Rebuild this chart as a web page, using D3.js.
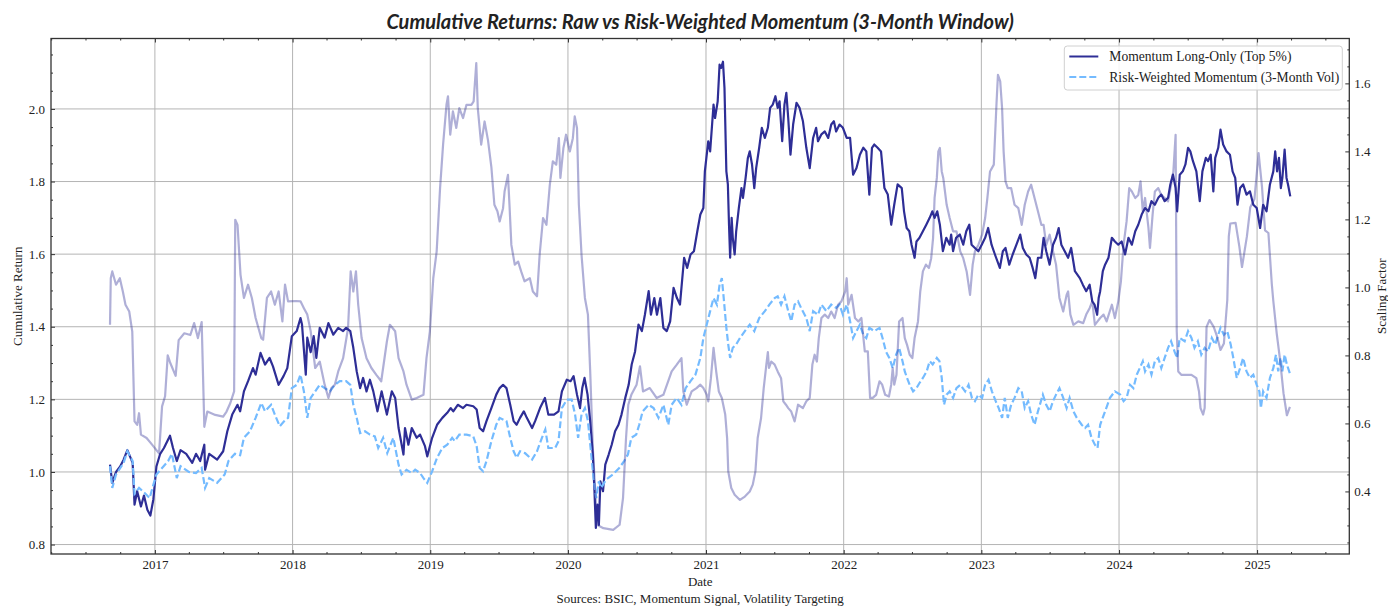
<!DOCTYPE html>
<html>
<head>
<meta charset="utf-8">
<script src="https://cdn.jsdelivr.net/npm/d3@7"></script>
<style>
  body { margin: 0; background: #fff; }
  svg text { font-family: "Liberation Serif", "DejaVu Serif", serif; fill: #222; }
</style>
</head>
<body>
<svg id="chart" width="1388" height="607"></svg>
<script>
// ---------- data ----------
const titleText = "Cumulative Returns: Raw vs Risk-Weighted Momentum (3-Month Window)";
const seriesNames = ["Momentum Long-Only (Top 5%)", "Risk-Weighted Momentum (3-Month Vol)"];
const leftTicks = [0.8, 1.0, 1.2, 1.4, 1.6, 1.8, 2.0];
const rightTicks = [0.4, 0.6, 0.8, 1.0, 1.2, 1.4, 1.6];

// raw momentum, cumulative return (left axis)
const momentumRaw = [
  ["2016-09-04",1.02],["2016-09-10",0.97],["2016-09-20",1.00],["2016-10-01",1.015],["2016-10-10",1.034],
  ["2016-10-20",1.06],["2016-10-28",1.04],["2016-11-03",1.025],["2016-11-08",0.91],["2016-11-15",0.947],
  ["2016-11-25",0.905],["2016-12-03",0.935],["2016-12-12",0.896],["2016-12-20",0.88],["2016-12-28",0.925],
  ["2017-01-05",1.015],["2017-01-15",1.05],["2017-01-25",1.066],["2017-02-10",1.10],["2017-02-18",1.066],
  ["2017-02-28",1.03],["2017-03-10",1.06],["2017-03-25",1.05],["2017-04-10",1.025],["2017-04-20",1.05],
  ["2017-05-01",1.03],["2017-05-12",1.075],["2017-05-14",1.006],["2017-05-25",1.05],["2017-06-15",1.034],
  ["2017-07-01",1.057],["2017-07-12",1.112],["2017-07-25",1.158],["2017-08-08",1.185],["2017-08-15",1.167],
  ["2017-08-25",1.222],["2017-09-05",1.25],["2017-09-18",1.286],["2017-09-25",1.268],["2017-10-08",1.328],
  ["2017-10-20",1.296],["2017-11-01",1.314],["2017-11-10",1.291],["2017-11-25",1.24],["2017-12-08",1.264],
  ["2017-12-18",1.286],["2017-12-30",1.374],["2018-01-12",1.388],["2018-01-22",1.424],["2018-01-26",1.406],
  ["2018-02-05",1.268],["2018-02-09",1.37],["2018-02-18",1.33],["2018-02-26",1.374],["2018-03-05",1.314],
  ["2018-03-14",1.397],["2018-03-27",1.37],["2018-04-06",1.41],["2018-04-19",1.378],["2018-05-02",1.397],
  ["2018-05-15",1.388],["2018-05-23",1.397],["2018-06-03",1.388],["2018-06-11",1.342],["2018-06-20",1.277],
  ["2018-06-29",1.231],["2018-07-07",1.259],["2018-07-16",1.222],["2018-07-25",1.254],["2018-08-03",1.222],
  ["2018-08-14",1.167],["2018-08-25",1.222],["2018-09-08",1.158],["2018-09-21",1.222],["2018-09-30",1.204],
  ["2018-10-09",1.121],["2018-10-22",1.048],["2018-10-26",1.121],["2018-11-04",1.075],["2018-11-13",1.121],
  ["2018-11-26",1.094],["2018-12-05",1.103],["2018-12-18",1.071],["2018-12-24",1.043],["2019-01-06",1.094],
  ["2019-01-19",1.13],["2019-02-02",1.149],["2019-02-15",1.163],["2019-02-24",1.176],["2019-03-03",1.167],
  ["2019-03-15",1.185],["2019-03-29",1.176],["2019-04-07",1.185],["2019-04-25",1.181],["2019-05-04",1.172],
  ["2019-05-12",1.121],["2019-05-21",1.112],["2019-05-30",1.14],["2019-06-12",1.176],["2019-06-25",1.213],
  ["2019-07-04",1.231],["2019-07-13",1.24],["2019-07-22",1.231],["2019-08-01",1.185],["2019-08-10",1.14],
  ["2019-08-18",1.13],["2019-08-27",1.149],["2019-09-06",1.167],["2019-09-14",1.149],["2019-09-28",1.121],
  ["2019-10-06",1.14],["2019-10-19",1.176],["2019-11-01",1.204],["2019-11-10",1.158],["2019-11-25",1.158],
  ["2019-12-07",1.167],["2019-12-16",1.222],["2019-12-29",1.254],["2020-01-08",1.25],["2020-01-16",1.264],
  ["2020-01-25",1.213],["2020-02-02",1.176],["2020-02-08",1.231],["2020-02-14",1.259],["2020-02-22",1.213],
  ["2020-02-29",1.14],["2020-03-07",1.048],["2020-03-11",0.956],["2020-03-15",0.846],["2020-03-19",0.91],
  ["2020-03-23",0.854],["2020-03-27",0.974],["2020-04-03",0.947],["2020-04-09",1.02],["2020-04-18",1.048],
  ["2020-04-26",1.075],["2020-05-05",1.112],["2020-05-14",1.13],["2020-05-22",1.158],["2020-06-01",1.204],
  ["2020-06-10",1.24],["2020-06-18",1.296],["2020-06-27",1.332],["2020-07-06",1.406],["2020-07-15",1.388],
  ["2020-07-23",1.433],["2020-08-02",1.498],["2020-08-08",1.433],["2020-08-17",1.479],["2020-08-24",1.433],
  ["2020-09-02",1.479],["2020-09-10",1.397],["2020-09-19",1.388],["2020-09-28",1.415],["2020-10-07",1.507],
  ["2020-10-16",1.479],["2020-10-24",1.461],["2020-11-04",1.59],["2020-11-12",1.562],["2020-11-21",1.599],
  ["2020-11-30",1.608],["2020-12-09",1.663],["2020-12-17",1.709],["2020-12-25",1.727],["2020-12-29",1.828],
  ["2021-01-07",1.911],["2021-01-12",1.883],["2021-01-21",2.012],["2021-01-25",1.975],["2021-02-01",2.021],
  ["2021-02-06",2.122],["2021-02-10",2.113],["2021-02-15",2.13],["2021-02-19",2.058],["2021-02-24",1.828],
  ["2021-02-28",1.792],["2021-03-03",1.681],["2021-03-06",1.59],["2021-03-10",1.70],["2021-03-13",1.645],
  ["2021-03-18",1.599],["2021-03-22",1.663],["2021-03-29",1.727],["2021-04-05",1.782],["2021-04-09",1.755],
  ["2021-04-16",1.81],["2021-04-22",1.865],["2021-04-27",1.883],["2021-05-03",1.847],["2021-05-09",1.782],
  ["2021-05-14",1.837],["2021-05-22",1.893],["2021-05-29",1.948],["2021-06-06",1.92],["2021-06-14",1.948],
  ["2021-06-20",2.003],["2021-06-27",2.012],["2021-07-04",2.035],["2021-07-10",2.003],["2021-07-15",2.021],
  ["2021-07-22",1.911],["2021-07-28",2.012],["2021-08-02",2.044],["2021-08-07",1.975],["2021-08-13",1.874],
  ["2021-08-20",1.957],["2021-08-29",2.017],["2021-09-06",2.003],["2021-09-15",1.966],["2021-09-24",1.893],
  ["2021-10-03",1.837],["2021-10-12",1.92],["2021-10-20",1.948],["2021-10-25",1.911],["2021-11-03",1.93],
  ["2021-11-12",1.938],["2021-11-21",1.92],["2021-11-29",1.957],["2021-12-06",1.966],["2021-12-12",1.938],
  ["2021-12-21",1.957],["2021-12-30",1.948],["2022-01-09",1.92],["2022-01-18",1.92],["2022-01-26",1.819],
  ["2022-02-04",1.837],["2022-02-13",1.874],["2022-02-22",1.893],["2022-03-02",1.883],["2022-03-10",1.764],
  ["2022-03-17",1.893],["2022-03-23",1.902],["2022-04-01",1.893],["2022-04-10",1.883],["2022-04-19",1.782],
  ["2022-04-28",1.764],["2022-05-07",1.681],["2022-05-15",1.736],["2022-05-24",1.792],["2022-06-04",1.782],
  ["2022-06-10",1.718],["2022-06-17",1.672],["2022-06-24",1.663],["2022-06-30",1.626],["2022-07-08",1.59],
  ["2022-07-13",1.635],["2022-07-21",1.645],["2022-07-30",1.663],["2022-08-08",1.681],["2022-08-17",1.70],
  ["2022-08-24",1.718],["2022-08-30",1.70],["2022-09-06",1.718],["2022-09-13",1.681],["2022-09-21",1.608],
  ["2022-09-30",1.645],["2022-10-09",1.626],["2022-10-13",1.654],["2022-10-18",1.608],["2022-10-26",1.645],
  ["2022-11-05",1.654],["2022-11-14",1.626],["2022-11-22",1.663],["2022-11-30",1.681],["2022-12-06",1.626],
  ["2022-12-15",1.617],["2022-12-24",1.608],["2023-01-02",1.626],["2023-01-11",1.645],["2023-01-19",1.672],
  ["2023-01-28",1.626],["2023-02-06",1.599],["2023-02-19",1.562],["2023-02-27",1.608],["2023-03-06",1.617],
  ["2023-03-16",1.571],["2023-03-25",1.599],["2023-04-04",1.626],["2023-04-14",1.654],["2023-04-21",1.617],
  ["2023-04-30",1.599],["2023-05-09",1.59],["2023-05-17",1.562],["2023-05-24",1.534],["2023-05-31",1.59],
  ["2023-06-09",1.59],["2023-06-15",1.645],["2023-06-22",1.608],["2023-07-01",1.571],["2023-07-10",1.626],
  ["2023-07-18",1.645],["2023-07-25",1.672],["2023-08-01",1.626],["2023-08-10",1.608],["2023-08-19",1.59],
  ["2023-08-27",1.617],["2023-09-06",1.553],["2023-09-19",1.534],["2023-09-27",1.516],["2023-10-06",1.498],
  ["2023-10-15",1.516],["2023-10-22",1.47],["2023-10-28",1.461],["2023-11-04",1.433],["2023-11-08",1.479],
  ["2023-11-12",1.498],["2023-11-19",1.553],["2023-11-25",1.571],["2023-12-04",1.59],["2023-12-13",1.645],
  ["2023-12-21",1.635],["2023-12-30",1.626],["2024-01-08",1.635],["2024-01-17",1.599],["2024-01-26",1.645],
  ["2024-02-04",1.626],["2024-02-13",1.663],["2024-02-21",1.681],["2024-03-01",1.709],["2024-03-10",1.727],
  ["2024-03-19",1.718],["2024-03-27",1.746],["2024-04-05",1.736],["2024-04-14",1.755],["2024-04-22",1.764],
  ["2024-05-01",1.746],["2024-05-10",1.755],["2024-05-16",1.792],["2024-05-23",1.819],["2024-05-30",1.782],
  ["2024-06-03",1.718],["2024-06-10",1.819],["2024-06-18",1.828],["2024-06-25",1.847],["2024-07-02",1.893],
  ["2024-07-08",1.883],["2024-07-15",1.856],["2024-07-24",1.828],["2024-08-02",1.746],["2024-08-09",1.828],
  ["2024-08-18",1.865],["2024-08-24",1.856],["2024-08-31",1.874],["2024-09-07",1.773],["2024-09-12",1.865],
  ["2024-09-20",1.893],["2024-09-26",1.943],["2024-10-03",1.902],["2024-10-12",1.883],["2024-10-21",1.874],
  ["2024-10-28",1.828],["2024-11-04",1.81],["2024-11-10",1.736],["2024-11-17",1.782],["2024-11-25",1.792],
  ["2024-12-04",1.764],["2024-12-13",1.773],["2024-12-22",1.736],["2024-12-31",1.727],["2025-01-09",1.672],
  ["2025-01-17",1.736],["2025-01-26",1.718],["2025-02-04",1.792],["2025-02-13",1.828],["2025-02-18",1.883],
  ["2025-02-23",1.828],["2025-02-28",1.865],["2025-03-05",1.782],["2025-03-09",1.81],["2025-03-15",1.888],
  ["2025-03-20",1.81],["2025-03-24",1.792],["2025-03-30",1.759]
];

// risk-weighted momentum, cumulative return (left axis)
const momentumRiskWeighted = [
  ["2016-09-04",1.016],["2016-09-10",0.956],["2016-09-20",0.993],["2016-10-10",1.025],["2016-10-20",1.057],
  ["2016-11-03",1.03],["2016-11-08",0.94],["2016-11-20",0.956],["2016-12-05",0.942],["2016-12-18",0.928],
  ["2016-12-28",0.965],["2017-01-05",0.993],["2017-01-20",1.011],["2017-02-05",1.03],["2017-02-15",1.05],
  ["2017-02-28",0.983],["2017-03-10",1.016],["2017-04-01",1.0],["2017-04-20",0.997],["2017-05-05",1.011],
  ["2017-05-14",0.956],["2017-05-25",0.983],["2017-06-15",0.97],["2017-07-05",0.993],["2017-07-15",1.03],
  ["2017-08-01",1.05],["2017-08-15",1.046],["2017-08-25",1.094],["2017-09-10",1.112],["2017-09-25",1.149],
  ["2017-10-10",1.19],["2017-10-20",1.167],["2017-11-05",1.185],["2017-11-15",1.158],["2017-11-28",1.126],
  ["2017-12-10",1.14],["2017-12-20",1.149],["2017-12-30",1.231],["2018-01-12",1.24],["2018-01-22",1.268],
  ["2018-01-31",1.222],["2018-02-09",1.149],["2018-02-18",1.204],["2018-03-02",1.222],["2018-03-14",1.24],
  ["2018-03-27",1.231],["2018-04-10",1.222],["2018-04-23",1.24],["2018-05-06",1.25],["2018-05-23",1.25],
  ["2018-06-03",1.24],["2018-06-11",1.185],["2018-06-20",1.149],["2018-06-29",1.107],["2018-07-12",1.112],
  ["2018-07-25",1.103],["2018-08-07",1.098],["2018-08-16",1.066],["2018-08-29",1.094],["2018-09-09",1.052],
  ["2018-09-25",1.094],["2018-10-09",1.02],["2018-10-17",0.993],["2018-10-30",1.006],["2018-11-13",0.997],
  ["2018-11-22",1.006],["2018-12-05",0.997],["2018-12-14",0.983],["2018-12-24",0.97],["2019-01-06",1.002],
  ["2019-01-19",1.039],["2019-02-02",1.066],["2019-02-15",1.075],["2019-02-28",1.094],["2019-03-07",1.085],
  ["2019-03-19",1.103],["2019-04-07",1.103],["2019-04-25",1.098],["2019-05-04",1.071],["2019-05-12",1.011],
  ["2019-05-21",1.002],["2019-05-30",1.03],["2019-06-12",1.085],["2019-06-25",1.13],["2019-07-04",1.149],
  ["2019-07-22",1.14],["2019-08-01",1.094],["2019-08-10",1.057],["2019-08-18",1.039],["2019-08-27",1.057],
  ["2019-09-09",1.052],["2019-09-28",1.034],["2019-10-11",1.057],["2019-10-24",1.094],["2019-11-02",1.117],
  ["2019-11-10",1.066],["2019-11-28",1.066],["2019-12-07",1.085],["2019-12-16",1.176],["2019-12-29",1.199],
  ["2020-01-11",1.199],["2020-01-20",1.158],["2020-01-28",1.094],["2020-02-06",1.158],["2020-02-15",1.176],
  ["2020-02-23",1.14],["2020-03-01",1.066],["2020-03-09",0.983],["2020-03-16",0.928],["2020-03-23",0.974],
  ["2020-03-29",0.956],["2020-04-11",0.979],["2020-04-29",0.993],["2020-05-16",1.011],["2020-05-29",1.03],
  ["2020-06-08",1.048],["2020-06-17",1.094],["2020-06-30",1.103],["2020-07-08",1.13],["2020-07-17",1.167],
  ["2020-08-02",1.185],["2020-08-15",1.176],["2020-08-28",1.149],["2020-09-10",1.185],["2020-09-23",1.13],
  ["2020-10-02",1.185],["2020-10-15",1.204],["2020-10-28",1.185],["2020-11-08",1.231],["2020-11-21",1.25],
  ["2020-12-04",1.268],["2020-12-17",1.314],["2020-12-25",1.369],["2021-01-03",1.406],["2021-01-12",1.443],
  ["2021-01-21",1.479],["2021-01-30",1.461],["2021-02-06",1.516],["2021-02-12",1.534],["2021-02-17",1.479],
  ["2021-02-24",1.397],["2021-03-01",1.351],["2021-03-06",1.314],["2021-03-13",1.342],["2021-03-22",1.351],
  ["2021-04-01",1.369],["2021-04-14",1.388],["2021-04-27",1.406],["2021-05-09",1.388],["2021-05-22",1.424],
  ["2021-06-06",1.443],["2021-06-18",1.461],["2021-07-02",1.479],["2021-07-10",1.484],["2021-07-19",1.461],
  ["2021-07-28",1.484],["2021-08-07",1.443],["2021-08-15",1.415],["2021-08-24",1.461],["2021-09-02",1.47],
  ["2021-09-10",1.452],["2021-09-24",1.424],["2021-10-03",1.388],["2021-10-12",1.443],["2021-10-25",1.433],
  ["2021-11-03",1.461],["2021-11-16",1.443],["2021-11-29",1.461],["2021-12-12",1.452],["2021-12-21",1.461],
  ["2021-12-30",1.433],["2022-01-09",1.461],["2022-01-18",1.415],["2022-01-26",1.369],["2022-02-04",1.388],
  ["2022-02-13",1.406],["2022-02-22",1.378],["2022-03-02",1.369],["2022-03-10",1.397],["2022-03-23",1.388],
  ["2022-04-06",1.397],["2022-04-14",1.369],["2022-04-23",1.332],["2022-05-02",1.314],["2022-05-11",1.286],
  ["2022-05-20",1.323],["2022-05-28",1.342],["2022-06-06",1.305],["2022-06-12",1.277],["2022-06-18",1.259],
  ["2022-06-25",1.24],["2022-07-04",1.222],["2022-07-13",1.231],["2022-07-21",1.245],["2022-07-30",1.259],
  ["2022-08-09",1.277],["2022-08-17",1.305],["2022-08-25",1.296],["2022-09-05",1.314],["2022-09-12",1.305],
  ["2022-09-18",1.259],["2022-09-24",1.185],["2022-10-01",1.213],["2022-10-09",1.222],["2022-10-18",1.204],
  ["2022-10-27",1.231],["2022-11-06",1.24],["2022-11-19",1.222],["2022-11-28",1.24],["2022-12-07",1.204],
  ["2022-12-15",1.195],["2022-12-24",1.213],["2023-01-03",1.204],["2023-01-11",1.24],["2023-01-20",1.254],
  ["2023-01-29",1.222],["2023-02-08",1.195],["2023-02-16",1.176],["2023-02-25",1.149],["2023-03-04",1.204],
  ["2023-03-12",1.149],["2023-03-21",1.185],["2023-03-30",1.204],["2023-04-09",1.231],["2023-04-18",1.222],
  ["2023-04-26",1.176],["2023-05-05",1.195],["2023-05-13",1.158],["2023-05-22",1.13],["2023-05-31",1.167],
  ["2023-06-13",1.213],["2023-06-22",1.185],["2023-07-01",1.167],["2023-07-10",1.195],["2023-07-18",1.213],
  ["2023-07-27",1.231],["2023-08-06",1.204],["2023-08-15",1.176],["2023-08-23",1.204],["2023-09-02",1.167],
  ["2023-09-11",1.149],["2023-09-24",1.13],["2023-10-03",1.121],["2023-10-11",1.13],["2023-10-20",1.094],
  ["2023-10-29",1.075],["2023-11-05",1.066],["2023-11-09",1.103],["2023-11-12",1.13],["2023-11-25",1.167],
  ["2023-12-08",1.204],["2023-12-21",1.222],["2024-01-04",1.213],["2024-01-13",1.195],["2024-01-21",1.204],
  ["2024-01-30",1.24],["2024-02-08",1.231],["2024-02-17",1.268],["2024-02-25",1.286],["2024-03-04",1.305],
  ["2024-03-10",1.277],["2024-03-19",1.296],["2024-03-27",1.268],["2024-04-05",1.305],["2024-04-14",1.314],
  ["2024-04-22",1.286],["2024-05-01",1.314],["2024-05-10",1.342],["2024-05-18",1.36],["2024-05-27",1.332],
  ["2024-06-03",1.314],["2024-06-10",1.369],["2024-06-23",1.36],["2024-07-02",1.388],["2024-07-11",1.369],
  ["2024-07-19",1.342],["2024-07-28",1.36],["2024-08-06",1.323],["2024-08-15",1.342],["2024-08-24",1.332],
  ["2024-09-03",1.369],["2024-09-12",1.351],["2024-09-20",1.378],["2024-09-26",1.397],["2024-10-05",1.378],
  ["2024-10-14",1.388],["2024-10-23",1.351],["2024-10-30",1.314],["2024-11-08",1.259],["2024-11-17",1.286],
  ["2024-11-25",1.314],["2024-12-04",1.277],["2024-12-13",1.259],["2024-12-22",1.268],["2024-12-31",1.24],
  ["2025-01-07",1.222],["2025-01-11",1.176],["2025-01-17",1.222],["2025-01-26",1.204],["2025-02-04",1.259],
  ["2025-02-13",1.286],["2025-02-20",1.323],["2025-02-26",1.277],["2025-03-04",1.314],["2025-03-09",1.277],
  ["2025-03-15",1.323],["2025-03-21",1.296],["2025-03-30",1.268]
];

// volatility scaling factor (right axis)
const scalingFactor = [
  ["2016-09-04",0.89],["2016-09-06",1.027],["2016-09-10",1.047],["2016-09-20",1.008],["2016-09-30",1.027],
  ["2016-10-08",0.988],["2016-10-15",0.949],["2016-10-25",0.929],["2016-11-02",0.87],["2016-11-08",0.606],
  ["2016-11-15",0.596],["2016-11-20",0.63],["2016-11-25",0.567],["2016-12-10",0.557],["2016-12-25",0.537],
  ["2017-01-12",0.512],["2017-01-20",0.65],["2017-01-28",0.68],["2017-02-04",0.80],["2017-02-10",0.78],
  ["2017-02-25",0.74],["2017-03-05",0.845],["2017-03-20",0.865],["2017-04-05",0.86],["2017-04-15",0.895],
  ["2017-04-25",0.851],["2017-05-05",0.898],["2017-05-12",0.59],["2017-05-20",0.635],["2017-06-10",0.625],
  ["2017-07-01",0.62],["2017-07-10",0.635],["2017-07-20",0.66],["2017-07-30",0.694],["2017-08-02",1.199],
  ["2017-08-08",1.184],["2017-08-16",1.037],["2017-08-25",0.969],["2017-09-05",1.008],["2017-09-15",0.969],
  ["2017-09-25",0.91],["2017-10-10",0.851],["2017-10-15",0.846],["2017-10-25",0.969],["2017-11-05",0.988],
  ["2017-11-15",0.949],["2017-11-25",0.988],["2017-12-05",0.90],["2017-12-12",1.008],["2017-12-20",0.959],
  ["2018-01-10",0.96],["2018-01-22",0.959],["2018-01-31",0.939],["2018-02-09",0.92],["2018-02-18",0.871],
  ["2018-03-02",0.763],["2018-03-14",0.782],["2018-03-27",0.714],["2018-04-06",0.675],["2018-04-14",0.704],
  ["2018-04-23",0.714],["2018-05-02",0.753],["2018-05-15",0.792],["2018-05-28",0.88],["2018-06-04",1.047],
  ["2018-06-11",0.988],["2018-06-18",1.047],["2018-06-24",0.949],["2018-07-03",0.851],["2018-07-16",0.792],
  ["2018-07-29",0.763],["2018-08-11",0.743],["2018-08-24",0.724],["2018-09-08",0.841],["2018-09-16",0.89],
  ["2018-09-30",0.871],["2018-10-09",0.792],["2018-10-22",0.753],["2018-10-30",0.714],["2018-11-13",0.67],
  ["2018-11-26",0.675],["2018-12-14",0.684],["2018-12-22",0.792],["2018-12-31",0.871],["2019-01-09",1.027],
  ["2019-01-18",1.106],["2019-01-27",1.292],["2019-02-04",1.42],["2019-02-13",1.537],["2019-02-17",1.562],
  ["2019-02-23",1.449],["2019-03-02",1.518],["2019-03-11",1.469],["2019-03-19",1.527],["2019-03-29",1.498],
  ["2019-04-07",1.537],["2019-04-20",1.537],["2019-04-26",1.547],["2019-05-03",1.66],["2019-05-07",1.527],
  ["2019-05-16",1.42],["2019-05-25",1.488],["2019-06-03",1.433],["2019-06-12",1.354],["2019-06-20",1.243],
  ["2019-06-28",1.224],["2019-07-04",1.194],["2019-07-13",1.233],["2019-07-17",1.282],["2019-07-26",1.331],
  ["2019-07-30",1.243],["2019-08-04",1.125],["2019-08-13",1.067],["2019-08-22",1.076],["2019-08-30",1.047],
  ["2019-09-08",1.018],["2019-09-22",1.027],["2019-09-30",0.988],["2019-10-11",0.974],["2019-10-18",1.096],
  ["2019-10-27",1.204],["2019-11-05",1.184],["2019-11-14",1.302],["2019-11-22",1.371],["2019-12-01",1.361],
  ["2019-12-08",1.439],["2019-12-12",1.322],["2019-12-20",1.41],["2019-12-27",1.449],["2020-01-06",1.40],
  ["2020-01-14",1.439],["2020-01-19",1.503],["2020-01-25",1.469],["2020-01-30",1.243],["2020-02-06",1.096],
  ["2020-02-15",0.969],["2020-02-23",0.92],["2020-02-29",0.753],["2020-03-07",0.527],["2020-03-13",0.41],
  ["2020-03-18",0.302],["2020-04-04",0.292],["2020-04-30",0.287],["2020-05-17",0.302],["2020-05-26",0.38],
  ["2020-06-03",0.557],["2020-06-09",0.655],["2020-06-17",0.684],["2020-07-01",0.714],["2020-07-10",0.768],
  ["2020-07-18",0.694],["2020-08-05",0.704],["2020-08-23",0.675],["2020-09-10",0.684],["2020-10-02",0.753],
  ["2020-10-15",0.772],["2020-10-28",0.792],["2020-11-02",0.694],["2020-11-11",0.655],["2020-11-24",0.694],
  ["2020-12-07",0.704],["2020-12-17",0.714],["2020-12-25",0.704],["2021-01-03",0.684],["2021-01-07",0.665],
  ["2021-01-14",0.733],["2021-01-21",0.822],["2021-01-28",0.753],["2021-02-04",0.694],["2021-02-12",0.675],
  ["2021-02-21",0.626],["2021-02-26",0.557],["2021-03-01",0.459],["2021-03-09",0.41],["2021-03-18",0.39],
  ["2021-04-01",0.375],["2021-04-14",0.385],["2021-04-27",0.40],["2021-05-05",0.42],["2021-05-12",0.459],
  ["2021-05-18",0.557],["2021-05-27",0.616],["2021-06-03",0.704],["2021-06-10",0.773],["2021-06-14",0.81],
  ["2021-06-17",0.763],["2021-06-23",0.782],["2021-07-02",0.773],["2021-07-10",0.753],["2021-07-19",0.733],
  ["2021-07-25",0.665],["2021-08-01",0.655],["2021-08-07",0.645],["2021-08-15",0.635],["2021-08-24",0.606],
  ["2021-09-02",0.655],["2021-09-15",0.645],["2021-09-24",0.665],["2021-10-03",0.675],["2021-10-10",0.773],
  ["2021-10-16",0.802],["2021-10-22",0.782],["2021-10-27",0.851],["2021-11-03",0.91],["2021-11-12",0.92],
  ["2021-11-21",0.91],["2021-11-29",0.929],["2021-12-08",0.91],["2021-12-17",0.949],["2021-12-26",0.959],
  ["2022-01-05",0.988],["2022-01-09",1.027],["2022-01-13",0.949],["2022-01-22",0.978],["2022-01-31",0.91],
  ["2022-02-09",0.90],["2022-02-17",0.91],["2022-02-26",0.812],["2022-03-06",0.812],["2022-03-12",0.675],
  ["2022-03-19",0.675],["2022-03-28",0.684],["2022-04-06",0.724],["2022-04-13",0.714],["2022-04-21",0.684],
  ["2022-05-01",0.679],["2022-05-07",0.714],["2022-05-11",0.763],["2022-05-15",0.714],["2022-05-21",0.743],
  ["2022-05-28",0.90],["2022-06-06",0.91],["2022-06-12",0.851],["2022-06-18",0.831],["2022-06-25",0.802],
  ["2022-07-02",0.792],["2022-07-08",0.851],["2022-07-17",0.90],["2022-07-23",0.988],["2022-07-30",1.047],
  ["2022-08-07",1.067],["2022-08-15",1.057],["2022-08-21",1.086],["2022-08-26",1.145],["2022-08-30",1.263],
  ["2022-09-05",1.322],["2022-09-09",1.40],["2022-09-13",1.41],["2022-09-18",1.341],["2022-09-22",1.322],
  ["2022-10-01",1.243],["2022-10-09",1.204],["2022-10-18",1.165],["2022-10-27",1.165],["2022-11-06",1.106],
  ["2022-11-14",1.086],["2022-11-23",1.047],["2022-12-02",0.978],["2022-12-09",1.067],["2022-12-15",1.106],
  ["2022-12-24",1.125],["2023-01-03",1.155],["2023-01-11",1.204],["2023-01-17",1.263],["2023-01-24",1.341],
  ["2023-02-03",1.361],["2023-02-10",1.537],["2023-02-14",1.625],["2023-02-20",1.606],["2023-02-25",1.527],
  ["2023-03-01",1.40],["2023-03-06",1.312],["2023-03-12",1.292],["2023-03-21",1.292],["2023-03-30",1.243],
  ["2023-04-09",1.233],["2023-04-18",1.184],["2023-04-26",1.243],["2023-05-05",1.282],["2023-05-13",1.302],
  ["2023-05-22",1.263],["2023-05-31",1.224],["2023-06-09",1.184],["2023-06-15",1.184],["2023-06-22",1.125],
  ["2023-07-01",1.155],["2023-07-10",1.106],["2023-07-18",1.067],["2023-07-27",0.969],["2023-08-06",0.929],
  ["2023-08-15",0.978],["2023-08-19",0.988],["2023-08-25",0.92],["2023-09-02",0.89],["2023-09-15",0.90],
  ["2023-09-28",0.895],["2023-10-06",0.92],["2023-10-15",0.939],["2023-10-22",0.959],["2023-10-29",0.89],
  ["2023-11-05",0.90],["2023-11-12",0.91],["2023-11-21",0.92],["2023-11-29",0.90],["2023-12-13",0.949],
  ["2023-12-21",0.91],["2023-12-30",0.959],["2024-01-06",1.018],["2024-01-13",1.125],["2024-01-21",1.194],
  ["2024-01-28",1.292],["2024-02-04",1.282],["2024-02-13",1.263],["2024-02-21",1.272],["2024-02-27",1.312],
  ["2024-03-04",1.224],["2024-03-10",1.263],["2024-03-19",1.175],["2024-03-23",1.116],["2024-03-30",1.214],
  ["2024-04-05",1.282],["2024-04-14",1.292],["2024-04-22",1.272],["2024-05-01",1.263],["2024-05-10",1.253],
  ["2024-05-18",1.302],["2024-05-24",1.341],["2024-05-30",1.449],["2024-06-02",0.871],["2024-06-06",0.753],
  ["2024-06-14",0.743],["2024-06-27",0.743],["2024-07-11",0.743],["2024-07-24",0.733],["2024-07-31",0.694],
  ["2024-08-04",0.645],["2024-08-11",0.626],["2024-08-15",0.645],["2024-08-20",0.884],["2024-08-28",0.904],
  ["2024-09-08",0.884],["2024-09-17",0.855],["2024-09-26",0.816],["2024-10-05",0.835],["2024-10-14",0.963],
  ["2024-10-18",1.15],["2024-10-22",1.188],["2024-11-05",1.19],["2024-11-15",1.12],["2024-11-22",1.06],
  ["2024-12-05",1.15],["2024-12-14",1.236],["2024-12-25",1.26],["2025-01-05",1.395],["2025-01-14",1.296],
  ["2025-01-22",1.168],["2025-01-31",1.16],["2025-02-09",1.01],["2025-02-13",0.96],["2025-02-22",0.865],
  ["2025-03-03",0.786],["2025-03-12",0.689],["2025-03-21",0.624],["2025-03-29",0.649]
];

// ---------- layout ----------
const W = 1388, H = 607;
const margin = {top: 38.5, right: 38.7, bottom: 53, left: 51};
const plotW = W - margin.left - margin.right;
const plotH = H - margin.top - margin.bottom;

const navy = "#2e2e96";
const lightBlue = "#74bbff";
const gridColor = "#b4b4b4";
const spineColor = "#333";

const parse = d3.timeParse("%Y-%m-%d");
const toPoints = arr => arr.map(d => ({date: parse(d[0]), value: d[1]}));
const rawPts = toPoints(momentumRaw);
const rwPts = toPoints(momentumRiskWeighted);
const scalePts = toPoints(scalingFactor);

// x domain: data extent padded by 5% on each side
const allDates = rawPts.concat(rwPts, scalePts).map(d => d.date);
const [dMin, dMax] = d3.extent(allDates);
const pad = (dMax - dMin) * 0.05;

const x = d3.scaleTime()
  .domain([new Date(+dMin - pad), new Date(+dMax + pad)])
  .range([0, plotW]);
const yLeft = d3.scaleLinear().domain([0.774, 2.194]).range([plotH, 0]);
const yRight = d3.scaleLinear().domain([0.216, 1.732]).range([plotH, 0]);

const svg = d3.select("#chart");
const g = svg.append("g").attr("transform", `translate(${margin.left},${margin.top})`);

svg.append("defs").append("clipPath").attr("id", "plotClip")
  .append("rect").attr("width", plotW).attr("height", plotH);

// ---------- grid ----------
const yearTicks = d3.timeYear.range(new Date(2017, 0, 1), new Date(2026, 0, 1))
  .filter(d => d >= x.domain()[0] && d <= x.domain()[1]);
const quarterTicks = d3.timeMonth.every(3).range(x.domain()[0], x.domain()[1])
  .filter(d => d.getMonth() !== 0);

g.append("g").attr("class", "grid")
  .selectAll("line.h").data(leftTicks).join("line")
    .attr("x1", 0).attr("x2", plotW)
    .attr("y1", d => yLeft(d)).attr("y2", d => yLeft(d))
    .attr("stroke", gridColor).attr("stroke-width", 1);
g.select(".grid")
  .selectAll("line.v").data(yearTicks).join("line")
    .attr("class", "v")
    .attr("y1", 0).attr("y2", plotH)
    .attr("x1", d => x(d)).attr("x2", d => x(d))
    .attr("stroke", gridColor).attr("stroke-width", 1);

// ---------- lines ----------
const lineLeft = d3.line().x(d => x(d.date)).y(d => yLeft(d.value));
const lineRight = d3.line().x(d => x(d.date)).y(d => yRight(d.value));

const plot = g.append("g").attr("clip-path", "url(#plotClip)");
plot.append("path").datum(rawPts)
  .attr("d", lineLeft).attr("fill", "none")
  .attr("stroke", navy).attr("stroke-width", 2.2).attr("stroke-linejoin", "round");
plot.append("path").datum(rwPts)
  .attr("d", lineLeft).attr("fill", "none")
  .attr("stroke", lightBlue).attr("stroke-width", 2.2)
  .attr("stroke-dasharray", "7,3");
// twin axis line sits on top, semi transparent
plot.append("path").datum(scalePts)
  .attr("d", lineRight).attr("fill", "none")
  .attr("stroke", navy).attr("stroke-opacity", 0.38).attr("stroke-width", 2.2)
  .attr("stroke-linejoin", "round");

// ---------- axes (ticks pointing inwards) ----------
const minorOf = (ticks, step) => {
  const out = [];
  for (let i = 0; i < ticks.length; i++) {
    for (let k = 1; k < 4; k++) out.push(+(ticks[i] - k * step).toFixed(3));
  }
  out.push(...[1, 2, 3].map(k => +(ticks[ticks.length - 1] + k * step).toFixed(3)));
  return out;
};

function styleAxis(sel) {
  sel.select(".domain").remove();
  sel.selectAll(".tick line").attr("stroke", spineColor).attr("stroke-width", 1);
  sel.selectAll("text").attr("font-size", 13).attr("fill", "#222")
    .attr("font-family", "Liberation Serif, serif");
}

// bottom
g.append("g").attr("transform", `translate(0,${plotH})`)
  .call(d3.axisBottom(x).tickValues(yearTicks).tickFormat(d3.timeFormat("%Y"))
    .tickSize(-4).tickPadding(6))
  .call(styleAxis);
g.append("g").attr("transform", `translate(0,${plotH})`)
  .call(d3.axisBottom(x).tickValues(quarterTicks).tickFormat("").tickSize(-2))
  .call(styleAxis);
// top
g.append("g")
  .call(d3.axisTop(x).tickValues(yearTicks).tickFormat("").tickSize(-4))
  .call(styleAxis);
g.append("g")
  .call(d3.axisTop(x).tickValues(quarterTicks).tickFormat("").tickSize(-2))
  .call(styleAxis);
// left
g.append("g")
  .call(d3.axisLeft(yLeft).tickValues(leftTicks).tickFormat(d3.format(".1f"))
    .tickSize(-4).tickPadding(6))
  .call(styleAxis);
g.append("g")
  .call(d3.axisLeft(yLeft)
    .tickValues(minorOf(leftTicks, 0.05).filter(v => v > yLeft.domain()[0] && v < yLeft.domain()[1]))
    .tickFormat("").tickSize(-2))
  .call(styleAxis);
// right (scaling factor)
g.append("g").attr("transform", `translate(${plotW},0)`)
  .call(d3.axisRight(yRight).tickValues(rightTicks).tickFormat(d3.format(".1f"))
    .tickSize(-4).tickPadding(5))
  .call(styleAxis);
g.append("g").attr("transform", `translate(${plotW},0)`)
  .call(d3.axisRight(yRight)
    .tickValues(minorOf(rightTicks, 0.05).filter(v => v > yRight.domain()[0] && v < yRight.domain()[1]))
    .tickFormat("").tickSize(-2))
  .call(styleAxis);

// spines
g.append("rect").attr("width", plotW).attr("height", plotH)
  .attr("fill", "none").attr("stroke", spineColor).attr("stroke-width", 1.3);

// ---------- legend ----------
const legend = g.append("g").attr("transform", `translate(${plotW - 285},${7.5})`);
legend.append("rect").attr("width", 278).attr("height", 44).attr("rx", 3)
  .attr("fill", "#fff").attr("fill-opacity", 0.85)
  .attr("stroke", "#d0d0d0").attr("stroke-width", 1);
const legendStyles = [
  {color: navy, dash: null},
  {color: lightBlue, dash: "7,3"}
];
seriesNames.forEach((name, i) => {
  const yy = 10.5 + i * 20.5;
  legend.append("line").attr("x1", 5).attr("x2", 34).attr("y1", yy).attr("y2", yy)
    .attr("stroke", legendStyles[i].color).attr("stroke-width", 2)
    .attr("stroke-dasharray", legendStyles[i].dash);
  legend.append("text").attr("x", 45).attr("y", yy + 4.5)
    .attr("font-size", 13.6).text(name);
});

// ---------- titles and labels ----------
svg.append("text")
  .attr("x", margin.left + plotW / 2).attr("y", 29)
  .attr("text-anchor", "middle")
  .style("font-family", "Lato, 'Open Sans', sans-serif")
  .style("font-weight", "bold").style("font-style", "italic")
  .attr("font-size", 20).attr("fill", "#111")
  .text(titleText);

svg.append("text")
  .attr("transform", `translate(17,${margin.top + plotH / 2}) rotate(-90)`)
  .attr("text-anchor", "middle").attr("dy", "0.35em")
  .attr("font-size", 13).text("Cumulative Return");

svg.append("text")
  .attr("transform", `translate(1381,${margin.top + plotH / 2}) rotate(-90)`)
  .attr("text-anchor", "middle").attr("dy", "0.35em")
  .attr("font-size", 13).text("Scaling Factor");

svg.append("text")
  .attr("x", margin.left + plotW / 2).attr("y", 586)
  .attr("text-anchor", "middle").attr("font-size", 13).text("Date");

svg.append("text")
  .attr("x", margin.left + plotW / 2).attr("y", 602.5)
  .attr("text-anchor", "middle").attr("font-size", 13)
  .text("Sources: BSIC, Momentum Signal, Volatility Targeting");
</script>
</body>
</html>
